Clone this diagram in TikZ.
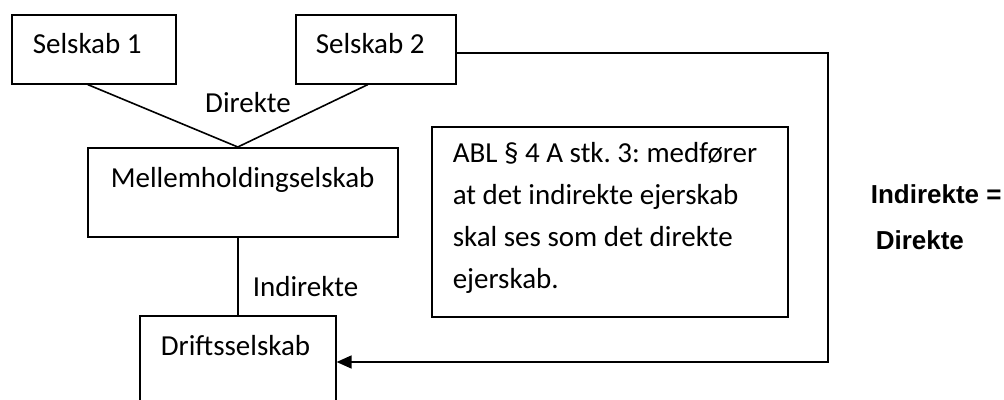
\documentclass[tikz,border=0pt]{standalone}
\usepackage{fontspec}
\setmainfont{Carlito}
\newfontfamily\headfont{Liberation Sans}
\usetikzlibrary{arrows.meta}
\frenchspacing
\begin{document}
\begin{tikzpicture}[x=1pt,y=-1pt,line width=1.6pt,
  box/.style={draw,rectangle,inner sep=0pt,anchor=north west},
  txt/.style={inner sep=0pt,anchor=base west,font=\fontsize{29}{35}\selectfont},
  heavy/.style={inner sep=0pt,anchor=base west,font=\headfont\bfseries\fontsize{26}{30}\selectfont},
  flow/.style={-{Triangle[length=15pt,width=13pt]}}]
\useasboundingbox (0,0) rectangle (1004,399);
\clip (0,0) rectangle (1004,399);

% company boxes
\node[box,minimum width=164pt,minimum height=69pt] (s1) at (11,14) {};
\node[box,minimum width=160pt,minimum height=69pt] (s2) at (295,14) {};
\node[box,minimum width=310pt,minimum height=89pt] (mh) at (87,147) {};
\node[box,minimum width=196pt,minimum height=110pt] (drift) at (139,315) {};
\node[box,minimum width=356pt,minimum height=190pt] (note) at (431,126) {};

% box texts
\node[txt] (s1t) at (32,53) {Selskab 1};
\node[txt] (s2t) at (315,53) {Selskab 2};
\node[txt] (mht) at (110,187) {Mellemholdingselskab};
\node[txt] (drt) at (160,355) {Driftsselskab};
% base anchor of a multi-line node sits on its last line
\node[txt,align=left,font=\fontsize{29}{41.7}\selectfont] (notet) at (452,288)
  {ABL § 4 A stk. 3: medfører\\at det indirekte ejerskab\\skal ses som det direkte\\ejerskab.};

% ownership lines
\draw ([xshift=-6pt]s1.south) -- ([xshift=-5pt]mh.north);
\draw ([xshift=-8pt]s2.south) -- ([xshift=-5pt]mh.north);
\draw (drift.north |- mh.south) -- (drift.north);
\node[txt,anchor=base] (dir) at (248,112) {Direkte};
\node[txt] (ind) at (252,296) {Indirekte};

% indirect ownership seen as direct
\coordinate (corner) at (828,362);
\draw[flow] ([yshift=-3.5pt]s2.east) -| (corner) -- (drift.east |- corner);

\node[heavy] (eq1) at (870,203) {Indirekte =};
\node[heavy] (eq2) at (875,249) {Direkte};
\end{tikzpicture}
\end{document}
